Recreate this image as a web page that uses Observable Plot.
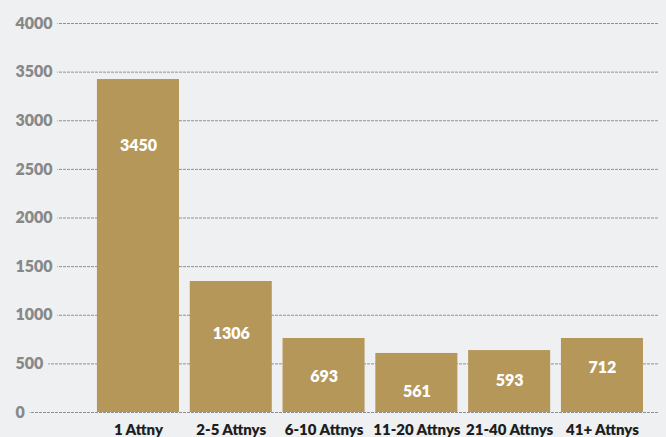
<!DOCTYPE html>
<html>
<head>
<meta charset="utf-8">
<script src="https://cdn.jsdelivr.net/npm/d3@7"></script>
<script src="https://cdn.jsdelivr.net/npm/@observablehq/plot@0.6"></script>
<style>
  html, body { margin: 0; padding: 0; background: #eff0f2; }
  #chart svg { display: block; }
</style>
</head>
<body>
<div id="chart"></div>
<script>
// Categories (firm size)
const categories = ["1 Attny", "2-5 Attnys", "6-10 Attnys", "11-20 Attnys", "21-40 Attnys", "41+ Attnys"];
// Bar heights as drawn in the picture
const barValues = [3424, 1347, 761, 607, 637, 761];
// Value labels printed on the bars
const valueLabels = ["3450", "1306", "693", "561", "593", "712"];
// Where each value label sits, in y-axis units
const labelAt = [2738, 812, 363, 216, 322, 455];
// Y-axis ticks
const yTicks = [0, 500, 1000, 1500, 2000, 2500, 3000, 3500, 4000];

const data = categories.map((c, i) => ({cat: c, value: barValues[i], label: valueLabels[i], at: labelAt[i]}));

const bg = "#eff0f2";
const chart = Plot.plot({
  width: 666,
  height: 437,
  marginTop: 23,
  marginBottom: 25,
  marginLeft: 15,
  marginRight: 8,
  style: {background: bg, fontFamily: "Lato, sans-serif", overflow: "visible"},
  x: {domain: categories, paddingInner: 0.116, paddingOuter: 0.5225, align: 0.845, round: false, label: null},
  y: {domain: [0, 4000], label: null, axis: null},
  marks: [
    Plot.ruleY(yTicks, {stroke: "#909090", strokeWidth: 1, strokeDasharray: "3,1"}),
    Plot.text(yTicks, {
      y: d => d, text: d => String(d), frameAnchor: "left", textAnchor: "start",
      fill: "#888888", fontWeight: 800, fontSize: 16,
      stroke: bg, strokeWidth: 10, paintOrder: "stroke"
    }),
    Plot.barY(data, {x: "cat", y: "value", fill: "#b5975a"}),
    Plot.text(data, {x: "cat", y: "at", text: "label", fill: "white", fontWeight: 800, fontSize: 16}),
    Plot.axisX({tickSize: 0, tickPadding: 12, fontSize: 15, fontWeight: 800, color: "#1e1e1e", fill: "#1e1e1e"})
  ]
});
document.getElementById("chart").append(chart);
</script>
</body>
</html>
